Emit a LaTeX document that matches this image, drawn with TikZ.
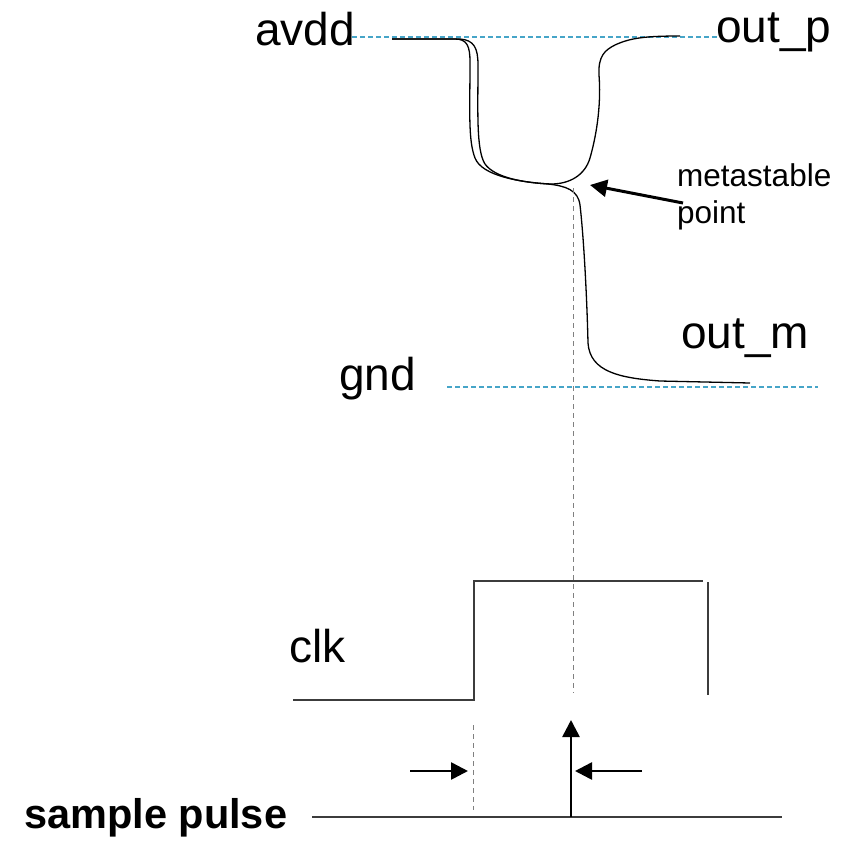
\documentclass[tikz,border=0pt]{standalone}
\usepackage{fontspec}
\setmainfont{Liberation Sans}
\usetikzlibrary{arrows.meta}
\definecolor{railblue}{RGB}{70,165,200}
\definecolor{guide}{RGB}{128,128,128}
\definecolor{wave}{RGB}{60,60,60}
\tikzset{
  big/.style={inner sep=0pt, anchor=base west, font=\fontsize{46}{54}\selectfont},
  small/.style={inner sep=0pt, anchor=base west, align=left, font=\fontsize{31.5}{37}\selectfont},
  bold/.style={inner sep=0pt, anchor=base west, font=\fontsize{41.5}{50}\selectfont\bfseries},
  rail/.style={railblue, line width=1.1pt, dash pattern=on 5pt off 3pt},
  guideline/.style={guide, line width=1pt, dash pattern=on 5pt off 4pt},
  curve/.style={black, line width=1.3pt},
  clkline/.style={wave, line width=2pt},
  arr/.style={black, line width=2.6pt, -{Triangle[length=17pt,width=17pt]}},
}
\begin{document}
\begin{tikzpicture}[x=1pt,y=-1pt]
\useasboundingbox (0,0) rectangle (849,844);
% labels
\node[big] (avdd) at (255,45) {avdd};
\node[big] (outp) at (716,42) {out\_p};
\node[big] (outm) at (681,348) {out\_m};
\node[big] (gnd) at (339,390) {gnd};
\node[small] (meta) at (677,223) {metastable\\point};
\node[big] (clk) at (289,662) {clk};
\node[bold] (sp) at (24,828) {sample pulse};
% rails
\coordinate (vddL) at (352,37);
\coordinate (vddR) at (717,37);
\coordinate (gndL) at (447,387);
\coordinate (gndR) at (818,387);
\draw[rail] (vddL) -- (vddR);
\draw[rail] (gndL) -- (gndR);
% curves
\coordinate (start) at (392,39);
\coordinate (mp) at (548,184);
\coordinate (endm) at (750,383);
\coordinate (endp) at (680,36);
\draw[curve] (start) -- (455,39) .. controls (467,39) and (470,46) .. (470,62)
  .. controls (470,110) and (468,140) .. (475,158)
  .. controls (482,176) and (520,182) .. (mp)
  .. controls (566,186) and (578,190) .. (580,205)
  .. controls (584,240) and (587,300) .. (588,343)
  .. controls (590,372) and (620,378) .. (660,381) -- (endm);
\draw[curve] (start) -- (460,39) .. controls (474,40) and (478,48) .. (478,65)
  .. controls (478,110) and (476,150) .. (485,164)
  .. controls (495,178) and (525,183) .. (551,184)
  .. controls (570,184) and (585,175) .. (590,158)
  .. controls (598,130) and (601,100) .. (599,75)
  .. controls (598,56) and (605,50) .. (615,45)
  .. controls (630,38) and (645,36) .. (endp);
% metastable arrow
\coordinate (mtail) at (683,203);
\coordinate (mtip) at (590,185);
\draw[arr, line width=3pt] (mtail) -- (mtip);
% vertical guides
\coordinate (g1a) at (573,188);
\coordinate (g1b) at (573,693);
\draw[guideline] (g1a) -- (g1b);
\coordinate (g2a) at (473,725);
\coordinate (g2b) at (473,810);
\draw[guideline] (g2a) -- (g2b);
% clk waveform
\coordinate (c0) at (293,700);
\coordinate (c1) at (474,700);
\coordinate (c2) at (474,581);
\coordinate (c3) at (703,581);
\coordinate (c4) at (708,582);
\coordinate (c5) at (708,695);
\draw[clkline] (c0) -- (c1) -- (c2) -- (c3);
\draw[clkline] (c4) -- (c5);
% sample pulse
\coordinate (s0) at (312,817);
\coordinate (s1) at (782,817);
\draw[clkline] (s0) -- (s1);
\coordinate (up0) at (571,817);
\coordinate (up1) at (571,720);
\draw[arr] (up0) -- (up1);
\coordinate (ra0) at (410,771);
\coordinate (ra1) at (468,771);
\draw[arr] (ra0) -- (ra1);
\coordinate (la0) at (642,771);
\coordinate (la1) at (575,771);
\draw[arr] (la0) -- (la1);
\end{tikzpicture}
\end{document}
